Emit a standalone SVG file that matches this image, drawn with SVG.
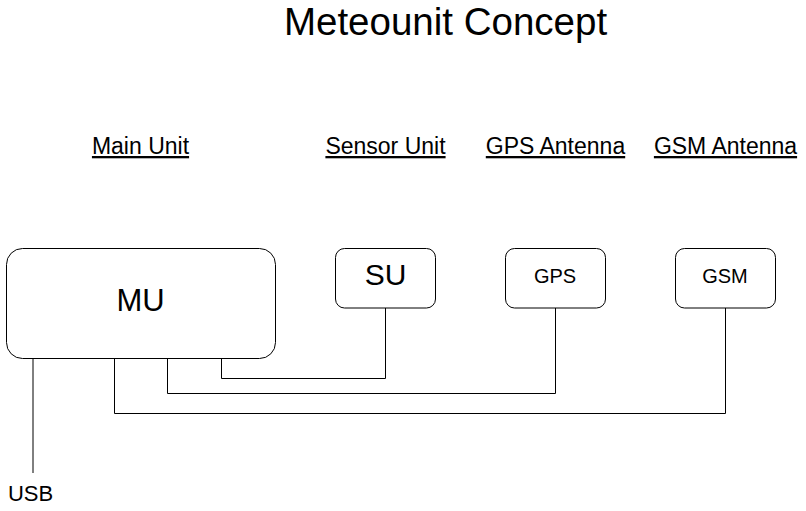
<svg xmlns="http://www.w3.org/2000/svg" width="806" height="511" viewBox="0 0 806 511">
<style>
text{font-family:"Liberation Sans",Arial,sans-serif;fill:#000;text-anchor:middle}
.box{fill:#fff;stroke:#000;stroke-width:1}
.wire{fill:none;stroke:#000;stroke-width:1}
.hdr{font-size:23px;text-decoration:underline}
</style>
<rect width="806" height="511" fill="#fff"/>
<text x="445.5" y="35" font-size="38.5">Meteounit Concept</text>
<g id="labels">
<text class="hdr" x="140.5" y="154">Main Unit</text>
<text class="hdr" x="385.5" y="154">Sensor Unit</text>
<text class="hdr" x="555.5" y="154">GPS Antenna</text>
<text class="hdr" x="725.5" y="154">GSM Antenna</text>
</g>
<g id="connectors">
<polyline class="wire" points="221.5,358 221.5,378.5 385.5,378.5 385.5,308"/>
<polyline class="wire" points="167.5,358 167.5,393.5 555.5,393.5 555.5,308"/>
<polyline class="wire" points="114.5,358 114.5,413.5 725.5,413.5 725.5,308"/>
<line class="wire" x1="33" y1="358" x2="33" y2="473"/>
</g>
<g id="MU">
<rect class="box" x="6.5" y="248.5" width="269" height="110" rx="16"/>
<text x="140.5" y="311" font-size="31">MU</text>
</g>
<g id="SU">
<rect class="box" x="335.5" y="248.5" width="100" height="59.5" rx="9"/>
<text x="385.5" y="285" font-size="30">SU</text>
</g>
<g id="GPS">
<rect class="box" x="505.5" y="248.5" width="100" height="59.5" rx="9"/>
<text x="555" y="283" font-size="20">GPS</text>
</g>
<g id="GSM">
<rect class="box" x="675.5" y="248.5" width="100" height="59.5" rx="9"/>
<text x="725" y="283" font-size="20">GSM</text>
</g>
<g id="USB">
<text x="30.5" y="501" font-size="22">USB</text>
</g>
</svg>
